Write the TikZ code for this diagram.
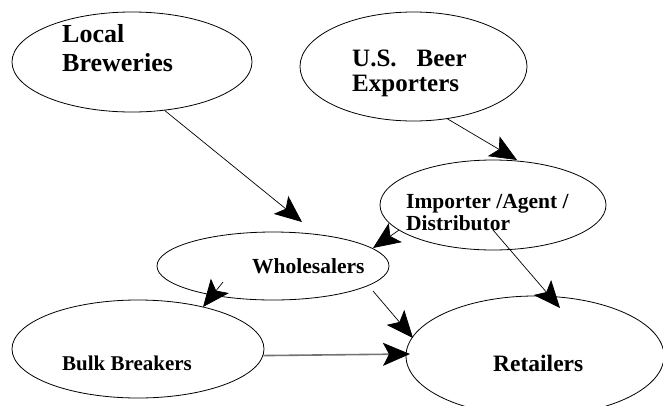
\documentclass[tikz,border=0pt]{standalone}
\usepackage{fontspec}
\setmainfont{Liberation Serif}
\usetikzlibrary{shapes.geometric,arrows.meta}
\begin{document}
\begin{tikzpicture}[x=1pt,y=-1pt,
  oval/.style={draw, ellipse, line width=0.8pt, inner sep=0pt},
  lbl/.style={anchor=base west, inner sep=0pt, align=left},
  arr/.style={line width=0.7pt, -{Stealth[length=27pt,width=23pt,inset=6pt,color=black]}}]
\useasboundingbox (0,0) rectangle (663,405);
% ellipses
\node[oval, minimum width=240pt, minimum height=100pt] (lb) at (132,62) {};
\node[oval, minimum width=227pt, minimum height=109pt] (ex) at (413.5,66.5) {};
\node[oval, minimum width=226pt, minimum height=90pt] (im) at (493,205) {};
\node[oval, minimum width=232pt, minimum height=68pt] (ws) at (273,266) {};
\node[oval, minimum width=252pt, minimum height=98pt] (bb) at (138,349) {};
\node[oval, minimum width=258pt, minimum height=120pt] (rt) at (535,356) {};
% labels (base = baseline of last line)
\node[lbl, font=\bfseries\fontsize{26}{29}\selectfont] (lbt) at (62,71) {Local\\Breweries};
\node[lbl, font=\bfseries\fontsize{25}{25}\selectfont] (ext) at (352,91) {U.S.\hspace{20pt}Beer\\Exporters};
\node[lbl, font=\bfseries\fontsize{21.5}{22}\selectfont] (imt) at (406,230) {Importer /Agent /\\Distributor};
\node[lbl, font=\bfseries\fontsize{21.5}{22}\selectfont] (wst) at (252,273) {Wholesalers};
\node[lbl, font=\bfseries\fontsize{21}{22}\selectfont] (bbt) at (62,370) {Bulk Breakers};
\node[lbl, font=\bfseries\fontsize{23.5}{24}\selectfont] (rtt) at (493,371) {Retailers};
% free ends of connectors
\coordinate (t1) at (302,222);
\coordinate (t2) at (517,160);
\coordinate (t3) at (373,248);
\coordinate (s4) at (493,230);
\coordinate (t4) at (560,308);
\coordinate (s5) at (223,282);
\coordinate (t5) at (203,307);
\coordinate (s6) at (373,291);
\coordinate (t6) at (413,338);
\coordinate (t7) at (410,354);
% connectors
\draw[arr] (lb.-56.3) -- (t1);
\draw[arr] (ex.-57.5) -- (t2);
\draw[arr] (im.195.5) -- (t3);
\draw[arr] (s4) -- (t4);
\draw[arr] (s5) -- (t5);
\draw[arr] (s6) -- (t6);
\draw[arr, draw=black!55, line width=1.6pt] (bb.-3) -- (t7);
\end{tikzpicture}
\end{document}
